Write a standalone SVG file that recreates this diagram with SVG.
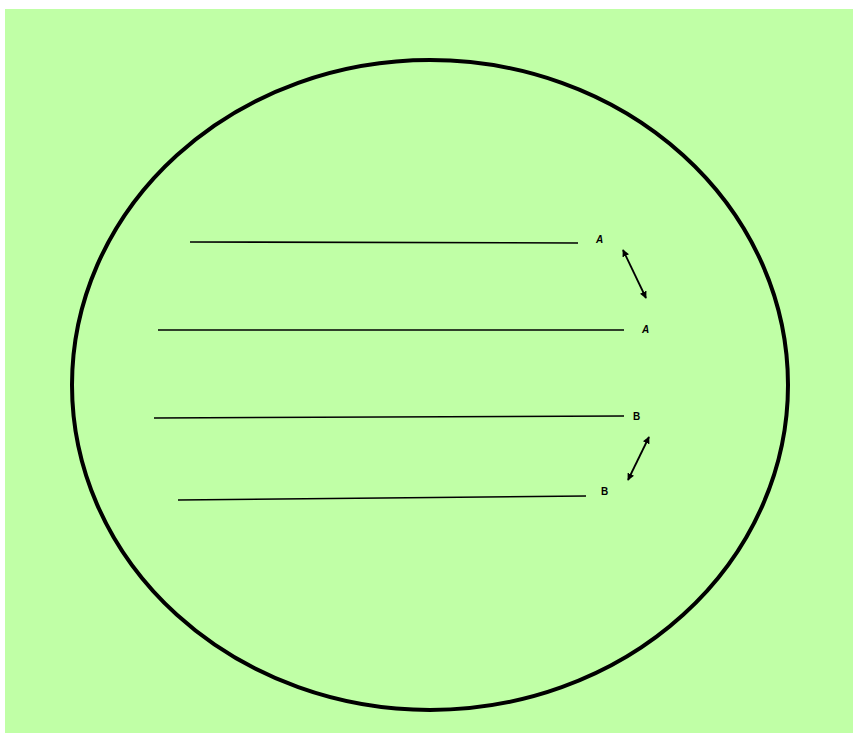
<svg xmlns="http://www.w3.org/2000/svg" width="853" height="733" viewBox="0 0 853 733">
<style>
.ln{stroke:#000;stroke-width:1.6;fill:none}
.ar{stroke:#000;stroke-width:1.8;fill:none;marker-start:url(#ah);marker-end:url(#ah)}
.lbl{font-family:"Liberation Sans",Arial,sans-serif;font-size:10px;fill:#000;font-weight:bold}
.it{font-style:italic}
</style>
<defs>
<marker id="ah" viewBox="0 0 10 10" refX="9" refY="5" markerWidth="4" markerHeight="4" orient="auto-start-reverse" markerUnits="strokeWidth">
<path d="M0,0 L10,5 L0,10 z" fill="#000"/>
</marker>
</defs>
<rect x="5" y="9" width="848" height="724" fill="#c0ffa6"/>
<g id="circle">
<ellipse cx="430" cy="385" rx="358" ry="325" fill="none" stroke="#000" stroke-width="4"/>
</g>
<g id="lines">
<line class="ln" x1="190" y1="242" x2="578" y2="243"/>
<line class="ln" x1="158" y1="330" x2="624" y2="330"/>
<line class="ln" x1="154" y1="418" x2="624" y2="416"/>
<line class="ln" x1="178" y1="500" x2="586" y2="496"/>
</g>
<g id="labels">
<text class="lbl it" x="596" y="243">A</text>
<text class="lbl it" x="642" y="333">A</text>
<text class="lbl" x="633" y="420">B</text>
<text class="lbl" x="601" y="495">B</text>
</g>
<g id="connectors">
<line class="ar" x1="623" y1="250" x2="646" y2="298"/>
<line class="ar" x1="649" y1="437" x2="628" y2="480"/>
</g>
</svg>
